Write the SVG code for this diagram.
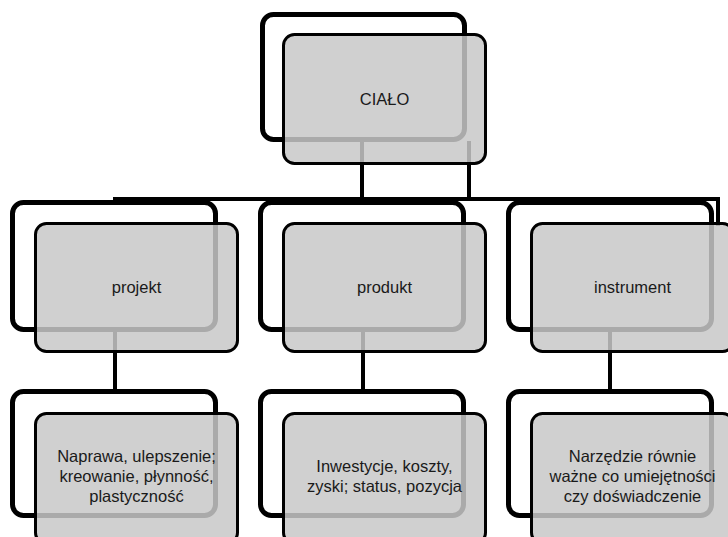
<svg xmlns="http://www.w3.org/2000/svg" width="728" height="537" viewBox="0 0 728 537">
<defs>
<style>
.back{fill:#ffffff;stroke:#000000;stroke-width:5}
.front{fill:#c8c8c8;fill-opacity:0.85;stroke:#000000;stroke-width:3}
.conn{stroke:#000000;stroke-width:4;fill:none}
.lbl{font-family:"Liberation Sans",Arial,sans-serif;font-size:16.5px;fill:#1a1a1a;text-anchor:middle}
</style>
</defs>
<rect width="728" height="537" fill="#ffffff"/>
<g id="connectors">
<line class="conn" x1="362" y1="141" x2="362" y2="199"/>
<line class="conn" x1="469" y1="141" x2="469" y2="199"/>
<line class="conn" x1="113" y1="199" x2="720" y2="199"/>
<line class="conn" x1="718" y1="197" x2="718" y2="226"/>
<line class="conn" x1="115" y1="330" x2="115" y2="391"/>
<line class="conn" x1="363" y1="330" x2="363" y2="391"/>
<line class="conn" x1="610" y1="330" x2="610" y2="391"/>
</g>
<g id="cialo">
<rect class="back" x="262.5" y="14.5" width="202" height="125" rx="11"/>
<rect class="front" x="283.5" y="34.5" width="202" height="129" rx="11"/>
<text class="lbl" x="384.5" y="105">CIAŁO</text>
</g>
<g id="projekt">
<rect class="back" x="12.5" y="202.5" width="203" height="127" rx="11"/>
<rect class="front" x="35.5" y="223.5" width="202" height="128" rx="11"/>
<text class="lbl" x="136.5" y="293">projekt</text>
</g>
<g id="produkt">
<rect class="back" x="260.5" y="202.5" width="203" height="127" rx="11"/>
<rect class="front" x="283.5" y="223.5" width="202" height="128" rx="11"/>
<text class="lbl" x="384.5" y="293">produkt</text>
</g>
<g id="instrument">
<rect class="back" x="508.5" y="202.5" width="203" height="127" rx="11"/>
<rect class="front" x="531.5" y="223.5" width="202" height="128" rx="11"/>
<text class="lbl" x="632.5" y="293">instrument</text>
</g>
<g id="projekt-opis">
<rect class="back" x="12.5" y="391.5" width="203" height="124" rx="11"/>
<rect class="front" x="35.5" y="413.5" width="202" height="130" rx="11"/>
<text class="lbl" x="136.5" y="461.5">Naprawa, ulepszenie;</text>
<text class="lbl" x="136.5" y="481.5">kreowanie, płynność,</text>
<text class="lbl" x="136.5" y="501.5">plastyczność</text>
</g>
<g id="produkt-opis">
<rect class="back" x="260.5" y="391.5" width="203" height="124" rx="11"/>
<rect class="front" x="283.5" y="413.5" width="202" height="130" rx="11"/>
<text class="lbl" x="384.5" y="471.5">Inwestycje, koszty,</text>
<text class="lbl" x="384.5" y="491.5">zyski; status, pozycja</text>
</g>
<g id="instrument-opis">
<rect class="back" x="508.5" y="391.5" width="203" height="124" rx="11"/>
<rect class="front" x="531.5" y="413.5" width="202" height="130" rx="11"/>
<text class="lbl" x="632.5" y="461.5">Narzędzie równie</text>
<text class="lbl" x="632.5" y="481.5">ważne co umiejętności</text>
<text class="lbl" x="632.5" y="501.5">czy doświadczenie</text>
</g>
</svg>
